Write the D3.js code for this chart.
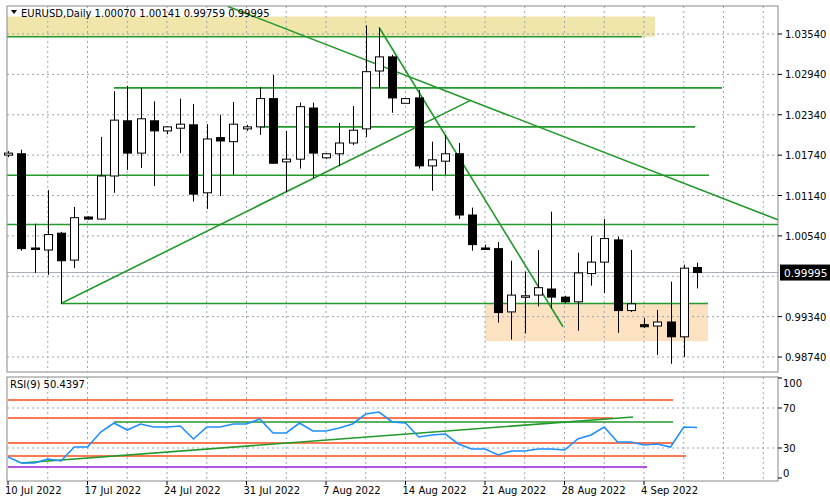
<!DOCTYPE html>
<html><head><meta charset="utf-8">
<script src="https://cdn.jsdelivr.net/npm/d3@7"></script>
<style>body{margin:0;background:#fff}svg{display:block;font-family:"DejaVu Sans",sans-serif}</style>
</head><body><svg id="c" width="830" height="499"></svg>
<script>
const dates=["07-10","07-11","07-12","07-13","07-14","07-15","07-17","07-18","07-19","07-20","07-21","07-22","07-24","07-25","07-26","07-27","07-28","07-29","07-31","08-01","08-02","08-03","08-04","08-05","08-07","08-08","08-09","08-10","08-11","08-12","08-14","08-15","08-16","08-17","08-18","08-19","08-21","08-22","08-23","08-24","08-25","08-26","08-28","08-29","08-30","08-31","09-01","09-02","09-04","09-05","09-06","09-07","09-08"];
const open =[1.0174,1.0176,1.0036,1.0033,1.0058,1.0018,1.0082,1.0079,1.0143,1.0225,1.0177,1.0225,1.0210,1.0214,1.0219,1.0118,1.0200,1.0194,1.0213,1.0216,1.0258,1.0164,1.0168,1.0244,1.0170,1.0176,1.0192,1.0213,1.0299,1.0320,1.0251,1.0259,1.0158,1.0165,1.0176,1.0085,1.0036,1.0035,0.9941,0.9965,0.9966,0.9975,0.9963,0.9956,0.9998,1.0015,1.0048,0.9943,0.9922,0.9920,0.9926,0.9904,1.0007];
const high =[1.0180,1.0182,1.0072,1.0122,1.0060,1.0097,1.0083,1.0201,1.0269,1.0277,1.0274,1.0254,1.0217,1.0258,1.0250,1.0220,1.0234,1.0253,1.0219,1.0275,1.0293,1.0210,1.0252,1.0252,1.0177,1.0222,1.0247,1.0367,1.0363,1.0323,1.0258,1.0271,1.0194,1.0204,1.0192,1.0096,1.0041,1.0045,1.0017,1.0001,1.0033,1.0090,0.9965,1.0029,1.0054,1.0079,1.0053,1.0033,0.9932,0.9944,0.9986,1.0011,1.00141];
const low  =[1.0171,1.0032,0.9999,0.9996,0.9953,1.0006,1.0078,1.0078,1.0118,1.0152,1.0155,1.0128,1.0205,1.0177,1.0105,1.0094,1.0113,1.0145,1.0210,1.0204,1.0161,1.0119,1.0154,1.0140,1.0168,1.0158,1.0189,1.0201,1.0274,1.0237,1.0251,1.0154,1.0121,1.0145,1.0079,1.0032,1.0035,0.9925,0.9900,0.9909,0.9949,0.9946,0.9954,0.9913,0.9980,0.9969,0.9910,0.9941,0.9917,0.9877,0.9864,0.9874,0.99759];
const close=[1.0177,1.0035,1.0035,1.0056,1.0017,1.0081,1.0079,1.0143,1.0226,1.0177,1.0228,1.0210,1.0216,1.0220,1.0116,1.0198,1.0195,1.0220,1.0216,1.0258,1.0162,1.0168,1.0246,1.0177,1.0176,1.0192,1.0211,1.0298,1.0320,1.0259,1.0258,1.0158,1.0167,1.0176,1.0085,1.0041,1.0035,0.9940,0.9966,0.9965,0.9977,0.9963,0.9956,0.9999,1.0015,1.0050,0.9943,0.9953,0.9919,0.9926,0.9904,1.0006,0.99995];
const rsi=[21,15,15,19,17,31,31,46,55,48,54,51,51,52,39,51,51,54,54,59,45,45,55,47,47,50,54,64,66,56,55,41,43,44,34,29,29,23,27,27,29,29,28,39,43,51,36,36,33,34,31,51,50.4397];
const priceTicks=[1.0354,1.0294,1.0234,1.0174,1.0114,1.0054,0.9994,0.9934,0.9874];
const priceTickLabels=["1.03540","1.02940","1.02340","1.01740","1.01140","1.00540","0.99940","0.99340","0.98740"];
const rsiTicks=[100,70,30,0];
const dateLabels=["10 Jul 2022","17 Jul 2022","24 Jul 2022","31 Jul 2022","7 Aug 2022","14 Aug 2022","21 Aug 2022","28 Aug 2022","4 Sep 2022"];
const header="EURUSD,Daily  1.00070 1.00141 0.99759 0.99995";

const svg=d3.select("#c");
const x=d3.scaleLinear().domain([0,52]).range([8,697]);
const y=d3.scaleLinear().domain([0.9874,1.0354]).range([357,34]);
const yr=d3.scaleLinear().domain([0,100]).range([478,378]);
const xi=d=>x(dates.indexOf(d));
const L=7,R=778,T=6,B=372,RT=377,RB=481;
const G="#22992b", GRID="#98a4b8";

// plot backgrounds
svg.append("rect").attr("x",L).attr("y",T).attr("width",R-L).attr("height",B-T).attr("fill","#fff");
// yellow zone
svg.append("rect").attr("x",L).attr("y",y(1.0380)).attr("width",655-L).attr("height",y(1.0350)-y(1.0380)).attr("fill","#f0e6ab");
// peach zone
svg.append("rect").attr("x",x(36)).attr("y",y(0.99535)).attr("width",708-x(36)).attr("height",y(0.98975)-y(0.99535)).attr("fill","#fde2c2");

// grids
const g=svg.append("g").attr("stroke",GRID).attr("stroke-dasharray","2,3").attr("stroke-width",1);
for(let i=3;i<=72;i+=3){const xx=x(0)+(x(1)-x(0))*i; if(xx<R){g.append("line").attr("x1",xx).attr("x2",xx).attr("y1",T).attr("y2",B);g.append("line").attr("x1",xx).attr("x2",xx).attr("y1",RT).attr("y2",RB);}}
priceTicks.forEach(p=>g.append("line").attr("x1",L).attr("x2",R).attr("y1",y(p)).attr("y2",y(p)));
[70,30].forEach(v=>g.append("line").attr("x1",L).attr("x2",R).attr("y1",yr(v)).attr("y2",yr(v)));

// current price line
svg.append("line").attr("x1",L).attr("x2",R).attr("y1",y(0.99995)).attr("y2",y(0.99995)).attr("stroke","#a3abb8");

// green objects main
const gl=svg.append("g").attr("stroke",G).attr("stroke-width",1.6);
const seg=(x1,p1,x2,p2)=>gl.append("line").attr("x1",x1).attr("y1",y(p1)).attr("x2",x2).attr("y2",y(p2));
seg(L,1.0350,642,1.0350);
seg(x(8),1.0274,722,1.0274);
seg(x(19),1.0216,695,1.0216);
seg(L,1.0144,709,1.0144);
seg(L,1.0071,R,1.0071);
seg(x(4),0.99535,708,0.99535);
seg(x(4),0.99535,470,1.0255);
seg(228,1.0395,R,1.0078);
seg(x(28),1.0364,563,0.9919);

// candles
const c=svg.append("g");
dates.forEach((d,i)=>{
  const cx=Math.round(x(i))+0.5, o=open[i], cl=close[i];
  c.append("line").attr("x1",cx).attr("x2",cx).attr("y1",y(high[i])).attr("y2",y(low[i])).attr("stroke","#000");
  const top=y(Math.max(o,cl)), bot=y(Math.min(o,cl));
  c.append("rect").attr("x",cx-4).attr("y",top).attr("width",8).attr("height",Math.max(bot-top,1.5))
   .attr("fill",cl>=o?"#fff":"#000").attr("stroke","#000").attr("stroke-width",1);
});

// RSI panel
const rl=svg.append("g");
const hl=(v,x1,x2,col)=>rl.append("line").attr("x1",x1).attr("x2",x2).attr("y1",yr(v)).attr("y2",yr(v)).attr("stroke",col).attr("stroke-width",1.6);
hl(78,L+1,673,"#ff4a1a");hl(60,L+1,613,"#ff4a1a");hl(35,L+1,673,"#ff4a1a");hl(22,L+1,686,"#ff4a1a");hl(11,L+1,647,"#9a1fd6");
hl(56,x(8),673,G);
rl.append("line").attr("x1",x(1)).attr("y1",yr(15)).attr("x2",633).attr("y2",yr(61)).attr("stroke",G).attr("stroke-width",1.6);
svg.append("path").datum(rsi).attr("fill","none").attr("stroke","#1e8fff").attr("stroke-width",1.6)
  .attr("d",d3.line().x((v,i)=>x(i)).y(v=>yr(v)));

// frames
svg.append("rect").attr("x",L).attr("y",T).attr("width",R-L).attr("height",B-T).attr("fill","none").attr("stroke","#888");
svg.append("rect").attr("x",L).attr("y",RT).attr("width",R-L).attr("height",RB-RT).attr("fill","none").attr("stroke","#888");

// right axes
const ya=svg.append("g").attr("font-size",10).attr("fill","#000");
priceTicks.forEach((p,k)=>{ if(k!==6){ya.append("line").attr("x1",R).attr("x2",R+4).attr("y1",y(p)).attr("y2",y(p)).attr("stroke","#000");
 ya.append("text").attr("x",R+7).attr("y",y(p)+4).text(priceTickLabels[k]);}});
rsiTicks.forEach(v=>{ya.append("line").attr("x1",R).attr("x2",R+4).attr("y1",yr(v)).attr("y2",yr(v)).attr("stroke","#000");
 ya.append("text").attr("x",R+5).attr("y",yr(v)+(v===100?9:v===0?-1:4)).text(v);});
svg.append("rect").attr("x",R+2).attr("y",y(0.99995)-8).attr("width",50).attr("height",16).attr("fill","#000");
svg.append("text").attr("x",R+6).attr("y",y(0.99995)+4).attr("font-size",10.5).attr("fill","#fff").text("0.99995");

// date axis
const xa=svg.append("g").attr("font-size",10);
dateLabels.forEach((t,k)=>{const xx=x(k*6);
 xa.append("line").attr("x1",xx).attr("x2",xx).attr("y1",RB).attr("y2",RB+4).attr("stroke","#000");
 xa.append("text").attr("x",xx-3).attr("y",494).text(t);});

// headers
svg.append("path").attr("d","M11,10 L17,10 L14,14 Z").attr("fill","#000");
svg.append("text").attr("x",21).attr("y",17).attr("font-size",10).text(header);
svg.append("text").attr("x",10).attr("y",388).attr("font-size",10).text("RSI(9) 50.4397");
</script></body></html>
